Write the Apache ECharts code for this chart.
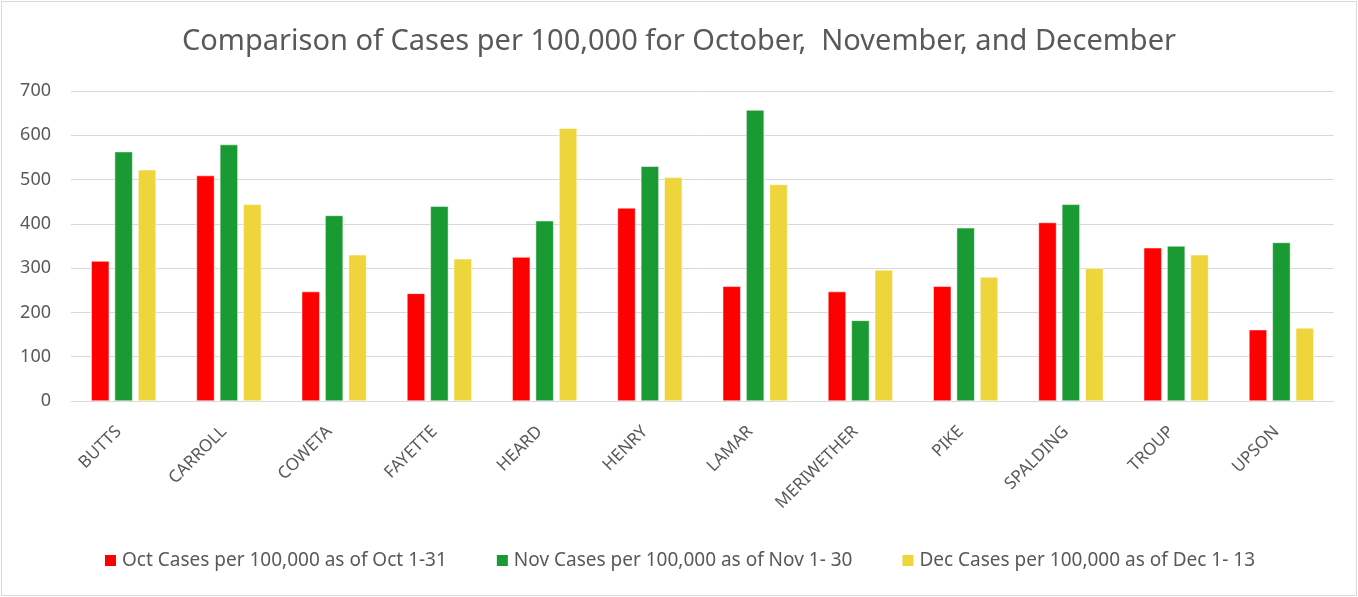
<!DOCTYPE html>
<html lang="en">
<head>
  <meta charset="UTF-8" />
  <title>Comparison of Cases per 100,000</title>
  <script src="https://cdn.jsdelivr.net/npm/echarts@6/dist/echarts.min.js"></script>
  <style>
    html, body { margin: 0; padding: 0; background: #fff; }
    #main { width: 1354px; height: 593px; border: 1px solid #d9d9d9; margin: 1px; }
  </style>
</head>
<body>
  <div id="main"></div>
  <script>
    // counties on the x axis
    var counties = ['BUTTS', 'CARROLL', 'COWETA', 'FAYETTE', 'HEARD', 'HENRY',
      'LAMAR', 'MERIWETHER', 'PIKE', 'SPALDING', 'TROUP', 'UPSON'];
    // cases per 100,000
    var octCases = [316, 509, 247, 243, 325, 436, 259, 247, 259, 403, 346, 161];
    var novCases = [563, 579, 419, 440, 407, 530, 657, 182, 391, 444, 350, 358];
    var decCases = [522, 444, 330, 321, 616, 505, 489, 296, 280, 300, 330, 165];
    var seriesNames = [
      'Oct Cases per 100,000 as of Oct 1-31',
      'Nov Cases per 100,000 as of Nov 1- 30',
      'Dec Cases per 100,000 as of Dec 1- 13'
    ];
    var yTicks = [0, 100, 200, 300, 400, 500, 600, 700];

    var fontFamily = 'Noto Sans, sans-serif';
    var myChart = echarts.init(document.getElementById('main'));

    function barSeries(name, data, color) {
      return {
        name: name,
        type: 'bar',
        data: data,
        barWidth: 18,
        barGap: '30%',
        itemStyle: { color: color, borderColor: '#ffffff', borderWidth: 0.5 }
      };
    }

    var option = {
      animation: false,
      textStyle: { fontFamily: fontFamily },
      title: {
        text: 'Comparison of Cases per 100,000 for October,  November, and December',
        left: 'center',
        top: 20,
        textStyle: { color: '#595959', fontSize: 29, fontWeight: 'normal', fontFamily: fontFamily }
      },
      legend: {
        bottom: 20,
        left: 'center',
        itemWidth: 13,
        itemHeight: 13,
        itemGap: 48,
        icon: 'rect',
        textStyle: { color: '#595959', fontSize: 19, fontFamily: fontFamily },
        data: seriesNames
      },
      grid: { left: 69, right: 22, top: 89, bottom: 194 },
      xAxis: {
        type: 'category',
        data: counties,
        axisLine: { lineStyle: { color: '#d9d9d9' } },
        axisTick: { show: false },
        axisLabel: {
          rotate: 45, color: '#595959', fontSize: 17, margin: 23,
          padding: [0, 7, 0, 0], interval: 0
        }
      },
      yAxis: {
        type: 'value',
        min: yTicks[0],
        max: yTicks[yTicks.length - 1],
        interval: 100,
        axisLine: { show: false },
        axisTick: { show: false },
        axisLabel: { color: '#595959', fontSize: 18, margin: 20 },
        splitLine: { lineStyle: { color: '#d9d9d9' } }
      },
      series: [
        barSeries(seriesNames[0], octCases, '#ff0000'),
        barSeries(seriesNames[1], novCases, '#1a9a32'),
        barSeries(seriesNames[2], decCases, '#efd53c')
      ]
    };

    myChart.setOption(option);
  </script>
</body>
</html>
